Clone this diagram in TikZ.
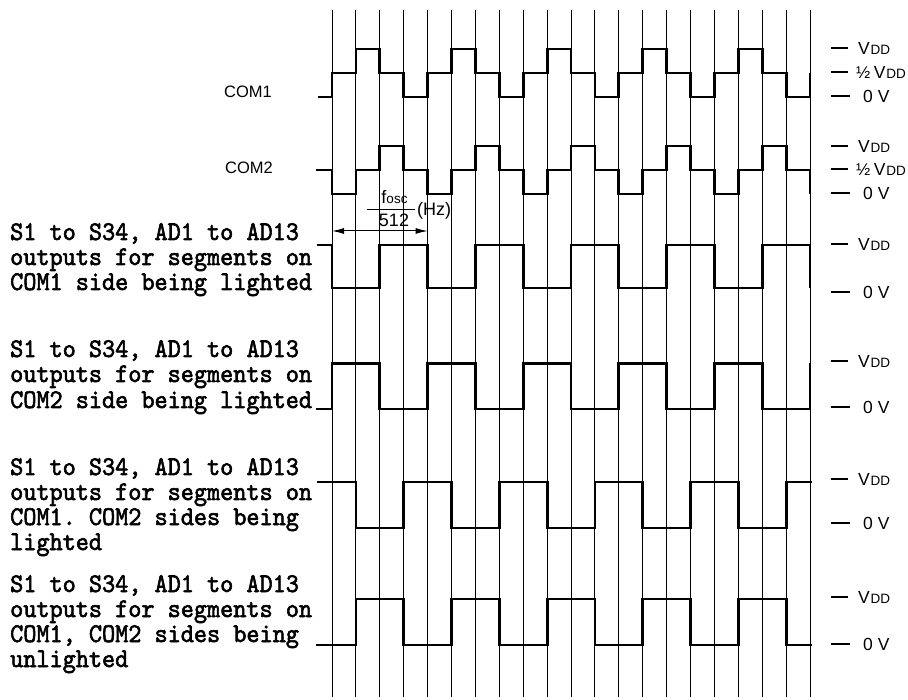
\documentclass[tikz,border=0pt]{standalone}
\usepackage{fontspec}
\setmainfont{Liberation Sans}
\newfontfamily\twfont{lmmono10-regular.otf}[FakeBold=2.2]
\usetikzlibrary{arrows.meta}
\newcommand\myVDD{V\kern0.8pt{\fontsize{13.5}{13.5}\selectfont DD}}
\newcommand\myHalfVDD{{\fontsize{17}{17}\selectfont ½}\kern3.5pt\myVDD}
\newcommand\twline[1]{\scalebox{1}[1.08]{#1}}
\begin{document}
\begin{tikzpicture}[x=1pt,y=-1pt,
  grid/.style={line width=0.85pt},
  wave/.style={line width=2.8pt, line join=miter, line cap=butt},
  tick/.style={line width=1.1pt},
  vlab/.style={anchor=west, inner sep=0pt, font=\fontsize{17.5}{17.5}\selectfont},
  clab/.style={anchor=base west, inner sep=0pt, font=\fontsize{16.5}{16.5}\selectfont},
  tw/.style={anchor=base west, inner sep=0pt, font={\twfont\fontsize{25}{25}\selectfont\frenchspacing}},
  flab/.style={inner sep=0pt, font=\fontsize{18}{18}\selectfont},
]
\useasboundingbox (0,0) rectangle (908,700);
\fill[white] (0,0) rectangle (908,700);

% grid lines
\foreach \i in {0,...,20}
  \draw[grid] ({332+23.9*\i},10) -- ({332+23.9*\i},697);

% COM1
\draw[wave] (318,97) foreach \i/\v in {0/73,1/49,2/73,3/97,4/73,5/49,6/73,7/97,8/73,9/49,10/73,11/97,12/73,13/49,14/73,15/97,16/73,17/49,18/73,19/97,20/73} { -| ({332+23.9*\i},\v) };
% COM2
\draw[wave] (316,170) foreach \i/\v in {0/194,1/170,2/146,3/170,4/194,5/170,6/146,7/170,8/194,9/170,10/146,11/170,12/194,13/170,14/146,15/170,16/194,17/170,18/146,19/170,20/194} { -| ({332+23.9*\i},\v) };
% wave 3
\draw[wave] (317,245) foreach \i/\v in {0/288,2/245,4/288,6/245,8/288,10/245,12/288,14/245,16/288,18/245,20/288} { -| ({332+23.9*\i},\v) };
% wave 4
\draw[wave] (316,409) foreach \i/\v in {0/363.5,2/409,4/363.5,6/409,8/363.5,10/409,12/363.5,14/409,16/363.5,18/409,20/363.5} { -| ({332+23.9*\i},\v) };
% wave 5
\draw[wave] (317,482) foreach \i/\v in {1/528,3/482,5/528,7/482,9/528,11/482,13/528,15/482,17/528,19/482} { -| ({332+23.9*\i},\v) } -- (812,482);
% wave 6
\draw[wave] (316,645) foreach \i/\v in {1/599,3/645,5/599,7/645,9/599,11/645,13/599,15/645,17/599,19/645} { -| ({332+23.9*\i},\v) } -- (812,645);

% right level labels
\draw[tick] (831,48) -- (848,48);   \node[vlab] (r1a) at (858,48) {\myVDD};
\draw[tick] (831,72) -- (848,72);   \node[vlab] (r1b) at (856,72) {\myHalfVDD};
\draw[tick] (831,96) -- (850,96);   \node[vlab] (r1c) at (863,96) {0 V};
\draw[tick] (831,146) -- (848,146); \node[vlab] (r2a) at (858,146) {\myVDD};
\draw[tick] (831,169) -- (848,169); \node[vlab] (r2b) at (856,169) {\myHalfVDD};
\draw[tick] (831,193) -- (850,193); \node[vlab] (r2c) at (863,193) {0 V};
\draw[tick] (831,244) -- (848,244); \node[vlab] (r3a) at (858,244) {\myVDD};
\draw[tick] (831,292) -- (850,292); \node[vlab] (r3c) at (863,292) {0 V};
\draw[tick] (831,361) -- (848,361); \node[vlab] (r4a) at (858,361) {\myVDD};
\draw[tick] (831,407) -- (850,407); \node[vlab] (r4c) at (863,407) {0 V};
\draw[tick] (831,479) -- (848,479); \node[vlab] (r5a) at (858,479) {\myVDD};
\draw[tick] (831,523) -- (850,523); \node[vlab] (r5c) at (863,523) {0 V};
\draw[tick] (831,597) -- (848,597); \node[vlab] (r6a) at (858,597) {\myVDD};
\draw[tick] (831,644) -- (850,644); \node[vlab] (r6c) at (863,644) {0 V};

% COM labels
\node[clab] (com1) at (224,98) {COM1};
\node[clab] (com2) at (225,174) {COM2};

% frequency annotation
\node[flab, anchor=base] (fosc) at (394.5,203.5) {f{\fontsize{13.5}{13.5}\selectfont osc}};
\coordinate (barL) at (366.7,209.5);
\coordinate (barR) at (415,209.5);
\draw[line width=1pt] (barL) -- (barR);
\node[flab, anchor=base] (den) at (394,227) {512};
\node[flab, anchor=base west] (hz) at (417,216) {(Hz)};
\coordinate (aL) at (332,231);
\coordinate (aR) at ({332+23.9*4},231);
\draw[line width=1pt, {Latex[length=12pt,width=6pt]}-{Latex[length=12pt,width=6pt]}] (aL) -- (aR);

% left text blocks
\node[tw] (t11) at (10,240) {\twline{S1 to S34, AD1 to AD13}};
\node[tw] (t12) at (10,265) {\twline{outputs for segments on}};
\node[tw] (t13) at (10,290) {\twline{COM1 side being lighted}};

\node[tw] (t21) at (10,357) {\twline{S1 to S34, AD1 to AD13}};
\node[tw] (t22) at (10,382) {\twline{outputs for segments on}};
\node[tw] (t23) at (10,408) {\twline{COM2 side being lighted}};

\node[tw] (t31) at (10,475) {\twline{S1 to S34, AD1 to AD13}};
\node[tw] (t32) at (10,500) {\twline{outputs for segments on}};
\node[tw] (t33) at (10,525) {\twline{COM1. COM2 sides being}};
\node[tw] (t34) at (10,550) {\twline{lighted}};

\node[tw] (t41) at (10,592) {\twline{S1 to S34, AD1 to AD13}};
\node[tw] (t42) at (10,617) {\twline{outputs for segments on}};
\node[tw] (t43) at (10,642) {\twline{COM1, COM2 sides being}};
\node[tw] (t44) at (10,667) {\twline{unlighted}};
\end{tikzpicture}
\end{document}
